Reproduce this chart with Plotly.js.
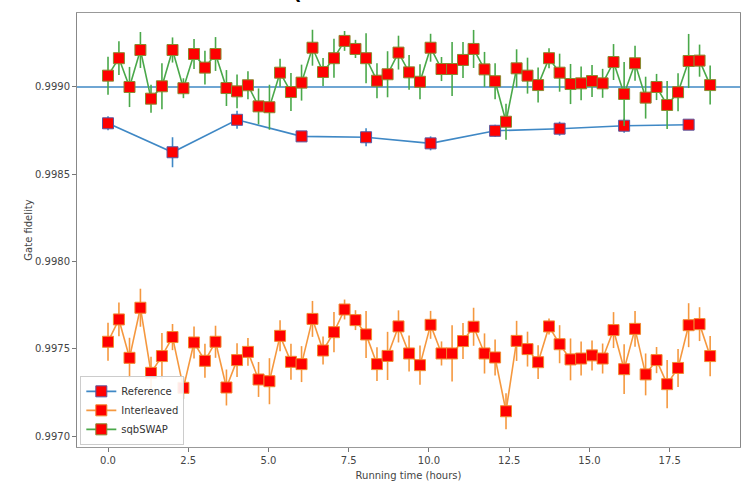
<!DOCTYPE html>
<html>
<head>
<meta charset="utf-8">
<script src="https://cdn.plot.ly/plotly-3.0.1.min.js"></script>
<style>html,body{margin:0;padding:0;background:#fff;}#chart{width:743px;height:490px;}</style>
</head>
<body>
<div id="chart"></div>
<script>
// Running time (hours) for interleaved / sqbSWAP measurements
const times = [0, 0.34, 0.67, 1.01, 1.34, 1.68, 2.01, 2.35, 2.68, 3.02, 3.35, 3.69, 4.02, 4.36, 4.69, 5.03, 5.36, 5.70, 6.03, 6.37, 6.70, 7.04, 7.37, 7.71, 8.04, 8.38, 8.71, 9.05, 9.38, 9.72, 10.05, 10.39, 10.72, 11.06, 11.39, 11.73, 12.06, 12.40, 12.73, 13.07, 13.40, 13.74, 14.07, 14.41, 14.74, 15.08, 15.41, 15.75, 16.08, 16.42, 16.75, 17.09, 17.42, 17.76, 18.09, 18.43, 18.76];

// Reference
const refTimes = [0, 2.01, 4.02, 6.03, 8.04, 10.05, 12.06, 14.07, 16.08, 18.09];
const refValues = [0.998792, 0.998626, 0.998812, 0.998717, 0.998712, 0.998677, 0.998749, 0.998761, 0.998778, 0.998784];
const refErrors = [0.000040, 0.000086, 0.000052, 0.000029, 0.000052, 0.000040, 0.000034, 0.000040, 0.000040, 0.000029];

// Interleaved
const interValues = [0.997540, 0.997668, 0.997448, 0.997735, 0.997362, 0.997458, 0.997567, 0.997276, 0.997536, 0.997431,
  0.997540, 0.997278, 0.997435, 0.997482, 0.997324, 0.997314, 0.997574, 0.997425, 0.997412, 0.997671,
  0.997490, 0.997595, 0.997725, 0.997664, 0.997582, 0.997412, 0.997459, 0.997628, 0.997473, 0.997406,
  0.997637, 0.997473, 0.997473, 0.997544, 0.997626, 0.997473, 0.997450, 0.997142, 0.997545, 0.997498,
  0.997423, 0.997628, 0.997526, 0.997439, 0.997444, 0.997462, 0.997444, 0.997607, 0.997383, 0.997614,
  0.997353, 0.997435, 0.997297, 0.997390, 0.997635, 0.997641, 0.997458];
const interErrors = [0.000109, 0.000097, 0.000115, 0.000109, 0.000092, 0.000132, 0.000075, 0.000063, 0.000092, 0.000097,
  0.000092, 0.000103, 0.000097, 0.000080, 0.000100, 0.000132, 0.000089, 0.000103, 0.000103, 0.000103,
  0.000080, 0.000115, 0.000057, 0.000057, 0.000135, 0.000097, 0.000138, 0.000092, 0.000103, 0.000112,
  0.000080, 0.000069, 0.000161, 0.000103, 0.000109, 0.000115, 0.000103, 0.000103, 0.000115, 0.000100,
  0.000097, 0.000046, 0.000109, 0.000120, 0.000097, 0.000086, 0.000086, 0.000103, 0.000143, 0.000103,
  0.000120, 0.000075, 0.000138, 0.000109, 0.000126, 0.000097, 0.000115];

// sqbSWAP
const sqbValues = [0.999065, 0.999165, 0.999000, 0.999212, 0.998933, 0.999004, 0.999212, 0.998993, 0.999189, 0.999111,
  0.999189, 0.998994, 0.998975, 0.999010, 0.998889, 0.998884, 0.999082, 0.998971, 0.999025, 0.999225,
  0.999086, 0.999165, 0.999264, 0.999218, 0.999165, 0.999036, 0.999073, 0.999197, 0.999084, 0.999030,
  0.999225, 0.999103, 0.999103, 0.999155, 0.999218, 0.999101, 0.999033, 0.998801, 0.999107, 0.999065,
  0.999011, 0.999165, 0.999082, 0.999017, 0.999021, 0.999034, 0.999021, 0.999143, 0.998960, 0.999136,
  0.998939, 0.999000, 0.998897, 0.998970, 0.999149, 0.999151, 0.999011];
const sqbErrors = [0.000109, 0.000097, 0.000115, 0.000103, 0.000080, 0.000132, 0.000072, 0.000057, 0.000086, 0.000097,
  0.000097, 0.000103, 0.000097, 0.000080, 0.000103, 0.000129, 0.000080, 0.000109, 0.000103, 0.000103,
  0.000080, 0.000112, 0.000057, 0.000052, 0.000143, 0.000100, 0.000132, 0.000097, 0.000100, 0.000100,
  0.000080, 0.000069, 0.000155, 0.000103, 0.000109, 0.000100, 0.000103, 0.000103, 0.000109, 0.000103,
  0.000100, 0.000057, 0.000109, 0.000115, 0.000097, 0.000092, 0.000083, 0.000103, 0.000183, 0.000100,
  0.000120, 0.000075, 0.000138, 0.000109, 0.000155, 0.000092, 0.000112];

const thresholdValue = [0.9990];
const xTickVals = [0, 2.5, 5, 7.5, 10, 12.5, 15, 17.5];
const xTickText = ['0.0', '2.5', '5.0', '7.5', '10.0', '12.5', '15.0', '17.5'];
const yTickVals = [0.9970, 0.9975, 0.9980, 0.9985, 0.9990];
const yTickText = ['0.9970', '0.9975', '0.9980', '0.9985', '0.9990'];

const blue = '#3f88c5', orange = '#f5983f', green = '#4aa84a';

function series(name, x, y, err, color, edge) {
  return {
    type: 'scatter', mode: 'lines+markers', name: name, x: x, y: y,
    line: {color: color, width: 1.6},
    marker: {symbol: 'square', size: 11, color: '#ff0000', line: {color: edge, width: 1}},
    error_y: {type: 'data', array: err, visible: true, color: color, thickness: 1.6, width: 0}
  };
}

const data = [
  series('Reference', refTimes, refValues, refErrors, blue, '#5a5aa0'),
  series('Interleaved', times, interValues, interErrors, orange, '#f08a30'),
  series('sqbSWAP', times, sqbValues, sqbErrors, green, '#8a8a30')
];

const font = {family: 'DejaVu Sans, sans-serif', size: 10, color: '#444'};

const layout = {
  width: 743, height: 490,
  margin: {l: 77, r: 3, t: 13, b: 43},
  paper_bgcolor: '#fff', plot_bgcolor: '#fff',
  font: font,
  showlegend: true,
  xaxis: {
    range: [-0.966, 19.69], tickvals: xTickVals, ticktext: xTickText,
    showgrid: false, zeroline: false, showline: true, mirror: true,
    linecolor: '#999', linewidth: 1, ticks: 'outside', ticklen: 4, tickcolor: '#777',
    tickfont: font,
    title: {text: 'Running time (hours)', font: font, standoff: 6}
  },
  yaxis: {
    range: [0.996937, 0.999424], tickvals: yTickVals, ticktext: yTickText,
    showgrid: false, zeroline: false, showline: true, mirror: true,
    linecolor: '#888', linewidth: 1, ticks: 'outside', ticklen: 4, tickcolor: '#777',
    tickfont: font,
    title: {text: 'Gate fidelity', font: font, standoff: 0}
  },
  legend: {
    x: 0.005, y: 0.005, xanchor: 'left', yanchor: 'bottom',
    bgcolor: 'rgba(255,255,255,0.9)', bordercolor: '#ccc', borderwidth: 1,
    font: {family: 'DejaVu Sans, sans-serif', size: 10, color: '#333'},
    tracegroupgap: 0, itemwidth: 30
  },
  shapes: [{
    type: 'line', xref: 'paper', x0: 0, x1: 1, yref: 'y', y0: thresholdValue[0], y1: thresholdValue[0],
    line: {color: blue, width: 1.6}, layer: 'below'
  }],
  annotations: [{
    xref: 'paper', yref: 'paper', x: 0.33, y: 1, xanchor: 'center', yanchor: 'bottom', yshift: 6,
    text: '(', showarrow: false, font: {family: 'DejaVu Sans, sans-serif', size: 36, color: '#000'}
  }]
};

Plotly.newPlot('chart', data, layout, {displayModeBar: false, staticPlot: true});
</script>
</body>
</html>
